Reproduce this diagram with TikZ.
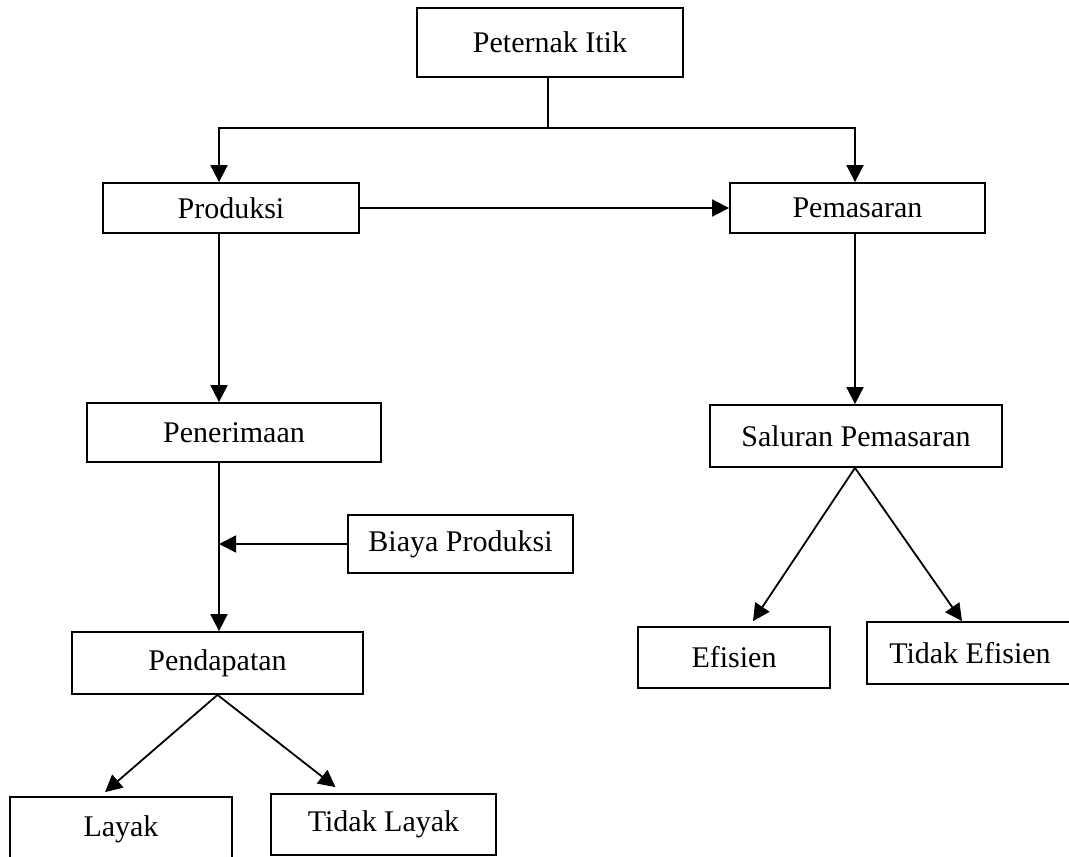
\documentclass[tikz,border=0pt]{standalone}
\usepackage{fontspec}
\setmainfont{Liberation Serif}
\usetikzlibrary{arrows.meta}
\begin{document}
\begin{tikzpicture}[x=1pt,y=-1pt,
  box/.style={draw,line width=1.8pt,inner sep=0pt,font=\fontsize{30}{36}\selectfont},
  arr/.style={line width=1.8pt,-{Triangle[length=17pt,width=17pt]}},
  ln/.style={line width=1.8pt}]
\useasboundingbox (0,0) rectangle (1069,857);
\clip (0,0) rectangle (1069,857);
\node[box,minimum width=266pt,minimum height=69pt] (top) at (550,42.5) {Peternak Itik};
\node[box,minimum width=256pt,minimum height=50pt] (prod) at (231,208) {Produksi};
\node[box,minimum width=255pt,minimum height=50pt] (pem) at (857.5,208) {Pemasaran};
\node[box,minimum width=294pt,minimum height=59pt] (pen) at (234,432.5) {Penerimaan};
\node[box,minimum width=225pt,minimum height=58pt] (biaya) at (460.5,544) {Biaya Produksi};
\node[box,minimum width=291pt,minimum height=62pt] (pend) at (217.5,663) {Pendapatan};
\node[box,minimum width=222pt,minimum height=64pt] (layak) at (121,829) {Layak};
\node[box,minimum width=225pt,minimum height=61pt] (tlayak) at (383.5,824.5) {Tidak Layak};
\node[box,minimum width=292pt,minimum height=62pt] (sal) at (856,436) {Saluran Pemasaran};
\node[box,minimum width=192pt,minimum height=61pt] (ef) at (734,657.5) {Efisien};
\node[box,minimum width=206pt,minimum height=62pt] (tef) at (970,653) {Tidak Efisien};
\coordinate (j) at ([xshift=-2pt]top.south |- 0,128);
\draw[ln] ([xshift=-2pt]top.south) -- (j);
\draw[arr] (j) -| ([xshift=-12pt]prod.north);
\draw[arr] (j) -| ([xshift=-2.5pt]pem.north);
\draw[arr] (prod.east) -- (pem.west);
\draw[arr] ([xshift=-12pt]prod.south) -- ([xshift=-12pt]prod.south |- pen.north);
\draw[arr] ([xshift=1.5pt]pend.north |- pen.south) -- ([xshift=1.5pt]pend.north);
\draw[arr] (biaya.west) -- ([xshift=1.5pt]biaya.west -| pend.north);
\draw[arr] (pend.south) -- ([xshift=-16pt,yshift=4pt]layak.north);
\draw[arr] (pend.south) -- ([xshift=-48pt,yshift=6pt]tlayak.north);
\draw[arr] ([xshift=-2.5pt]pem.south) -- ([xshift=-1pt]sal.north);
\draw[arr] ([xshift=-1pt]sal.south) -- ([xshift=19pt,yshift=5pt]ef.north);
\draw[arr] ([xshift=-1pt]sal.south) -- ([xshift=-8pt]tef.north);
\end{tikzpicture}
\end{document}
